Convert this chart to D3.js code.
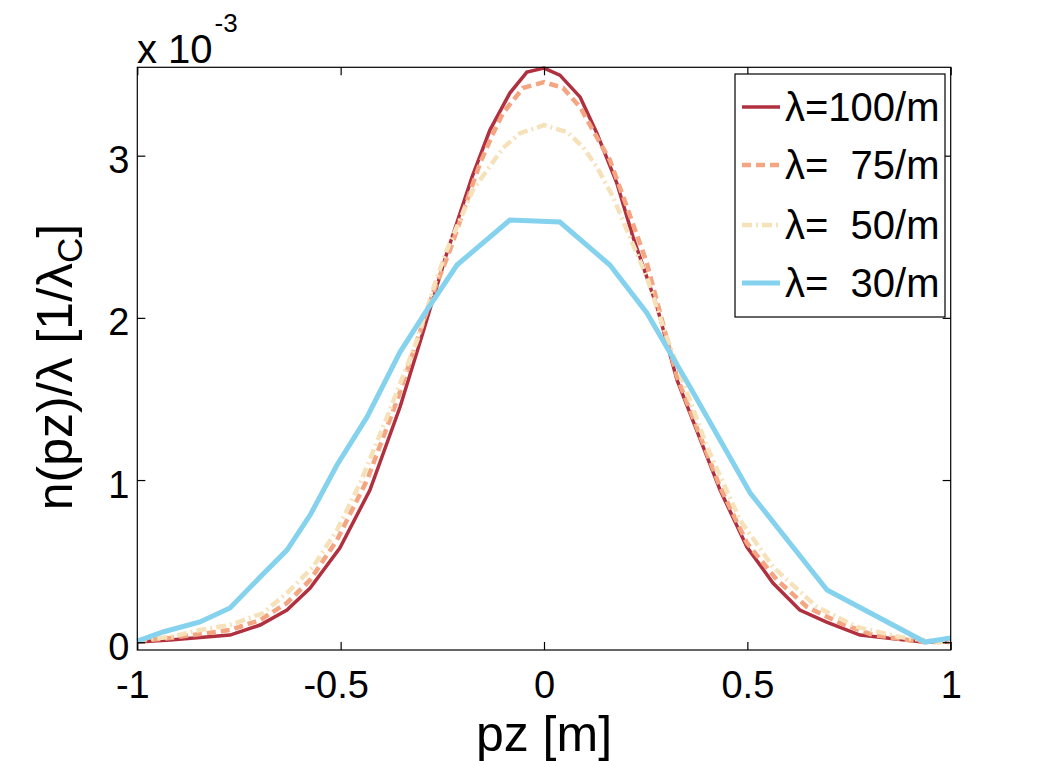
<!DOCTYPE html>
<html><head><meta charset="utf-8">
<script src="https://cdn.jsdelivr.net/npm/d3@7"></script>
<style>body{margin:0;background:#fff}svg{display:block}</style></head>
<body><svg id="c" width="1050" height="761"></svg>
<script>
// ---- data (values of n(pz)/λ in units of 1e-3) ----
const xTickValues=[-1,-0.5,0,0.5,1];
const xTickLabels=["-1","-0.5","0","0.5","1"];
const yTickValues=[0,1,2,3];
const yTickLabels=["0","1","2","3"];
const seriesNames=["λ=100/m","λ=  75/m","λ=  50/m","λ=  30/m"];

const pz100=[-1.0,-0.92,-0.772,-0.698,-0.632,-0.575,-0.502,-0.428,-0.354,-0.298,-0.239,-0.177,-0.133,-0.084,-0.042,0,0.039,0.089,0.130,0.179,0.219,0.278,0.327,0.433,0.499,0.563,0.629,0.695,0.777,0.932,1.0];
const n100=[0.001,0.014,0.044,0.106,0.198,0.334,0.581,0.938,1.450,1.906,2.399,2.868,3.158,3.386,3.515,3.540,3.497,3.361,3.139,2.831,2.498,2.067,1.617,0.938,0.587,0.365,0.198,0.124,0.044,0.001,0.001];

const pz75=[-1.0,-0.92,-0.772,-0.698,-0.632,-0.575,-0.509,-0.435,-0.361,-0.273,-0.231,-0.189,-0.157,-0.125,-0.101,-0.052,0,0.047,0.089,0.120,0.162,0.204,0.253,0.327,0.433,0.499,0.573,0.647,0.728,0.809,0.932,1.0];
const n75=[0.007,0.026,0.075,0.137,0.242,0.384,0.630,1.000,1.493,2.153,2.418,2.726,2.954,3.139,3.262,3.417,3.454,3.417,3.299,3.158,2.973,2.683,2.338,1.635,0.957,0.612,0.384,0.217,0.118,0.044,0.001,0.001];

const pz50=[-1.0,-0.92,-0.846,-0.772,-0.691,-0.632,-0.568,-0.509,-0.452,-0.386,-0.312,-0.268,-0.239,-0.207,-0.175,-0.140,-0.101,-0.059,0,0.057,0.096,0.130,0.170,0.211,0.253,0.293,0.401,0.482,0.563,0.671,0.770,0.875,0.974,1.0];
const n50=[0.014,0.032,0.075,0.106,0.180,0.303,0.464,0.692,0.981,1.388,1.863,2.214,2.418,2.603,2.788,2.911,3.047,3.139,3.188,3.145,3.053,2.930,2.745,2.498,2.251,1.943,1.203,0.753,0.464,0.217,0.094,0.032,0.001,0.007];

const pz30=[-1.0,-0.937,-0.846,-0.772,-0.698,-0.632,-0.575,-0.509,-0.435,-0.354,-0.288,-0.214,-0.084,0.039,0.162,0.253,0.359,0.507,0.696,0.937,1.0];
const n30=[0.007,0.063,0.125,0.211,0.402,0.568,0.784,1.093,1.389,1.789,2.048,2.326,2.603,2.591,2.326,2.030,1.574,0.920,0.322,0.001,0.026];

// ---- styles ----
const colors=["#b0303f","#f4a582","#f6e2ba","#85d2ee"];
const widths=[3.5,4.5,4.5,5];
const dashes=[null,"9,5","10,4,2,4",null];
const series=[[pz100,n100],[pz75,n75],[pz50,n50],[pz30,n30]];

const svg=d3.select("#c");
const font="'Liberation Sans', Arial, Helvetica, sans-serif";
const L=137.3,R=950.7,T=67.3,B=650;
const x=d3.scaleLinear().domain([-1,1]).range([L,R]);
const y=d3.scaleLinear().domain([-0.048,3.545]).range([B,T]);

svg.append("rect").attr("width",1050).attr("height",761).attr("fill","#fff");

const line=d3.line().x(d=>x(d[0])).y(d=>y(d[1]));
const gLines=svg.append("g");
series.forEach((s,i)=>{
  const pts=s[0].map((v,j)=>[v,s[1][j]]);
  gLines.append("path").datum(pts).attr("d",line)
    .attr("fill","none").attr("stroke",colors[i]).attr("stroke-width",widths[i])
    .attr("stroke-dasharray",dashes[i]).attr("stroke-linejoin","miter");
});

// axes box
svg.append("rect").attr("x",L).attr("y",T).attr("width",R-L).attr("height",B-T)
  .attr("fill","none").attr("stroke","#000").attr("stroke-width",1.2);

function styleAxis(g){g.select(".domain").remove();g.selectAll("line").attr("stroke","#000").attr("stroke-width",1.2);
  g.selectAll("text").attr("fill","#000").attr("font-family",font).attr("font-size",38);}

svg.append("g").attr("transform",`translate(0,${B})`)
  .call(d3.axisBottom(x).tickValues(xTickValues).tickFormat((d,i)=>xTickLabels[i]).tickSize(-8).tickPadding(21))
  .call(styleAxis)
  .selectAll("text").attr("dx",d=>d<0?-5:0);
svg.append("g").attr("transform",`translate(0,${T})`)
  .call(d3.axisTop(x).tickValues(xTickValues).tickFormat("").tickSize(-8)).call(styleAxis);
svg.append("g").attr("transform",`translate(${L},0)`)
  .call(d3.axisLeft(y).tickValues(yTickValues).tickFormat((d,i)=>yTickLabels[i]).tickSize(-8).tickPadding(8))
  .call(styleAxis).selectAll("text").attr("dy","0.45em");
svg.append("g").attr("transform",`translate(${R},0)`)
  .call(d3.axisRight(y).tickValues(yTickValues).tickFormat("").tickSize(-8)).call(styleAxis);

// exponent
const ex=svg.append("text").attr("x",137).attr("y",63).attr("font-family",font).attr("font-size",40).attr("fill","#000");
ex.append("tspan").attr("font-size",40).text("x 10");
ex.append("tspan").attr("font-size",26).attr("dy",-31).attr("dx",2).text("-3");

// axis labels
svg.append("text").attr("x",(L+R)/2).attr("y",751).attr("text-anchor","middle")
  .attr("font-family",font).attr("font-size",50).attr("fill","#000").text("pz [m]");
const yl=svg.append("text").attr("transform","translate(72,367) rotate(-90)").attr("text-anchor","middle")
  .attr("font-family",font).attr("font-size",50).attr("fill","#000");
yl.append("tspan").text("n(pz)/λ [1/λ");
yl.append("tspan").attr("font-size",35).attr("dy",10).text("C");
yl.append("tspan").attr("dy",-10).text("]");

// legend
const lg=svg.append("g");
lg.append("rect").attr("x",735).attr("y",74).attr("width",210).attr("height",243)
  .attr("fill","#fff").attr("stroke","#000").attr("stroke-width",1.2);
const rowY=[107,165,225,283];
seriesNames.forEach((nm,i)=>{
  lg.append("line").attr("x1",742).attr("x2",780).attr("y1",rowY[i]).attr("y2",rowY[i])
    .attr("stroke",colors[i]).attr("stroke-width",widths[i]).attr("stroke-dasharray",dashes[i]);
  lg.append("text").attr("x",785).attr("y",rowY[i]+14).attr("font-family",font).attr("font-size",40)
    .attr("fill","#000").style("white-space","pre").attr("xml:space","preserve").text(nm);
});
</script></body></html>
